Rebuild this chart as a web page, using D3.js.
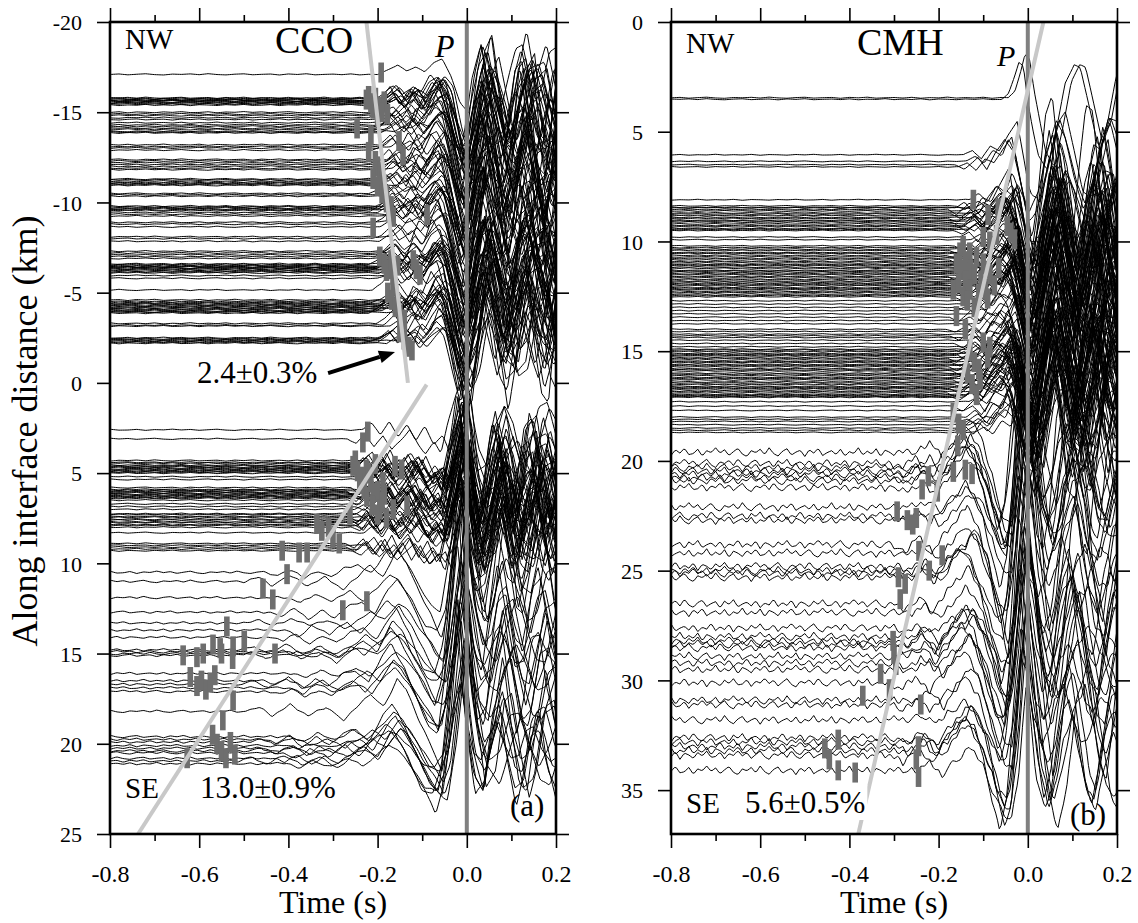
<!DOCTYPE html>
<html><head><meta charset="utf-8">
<script src="https://cdn.jsdelivr.net/npm/d3@7"></script>
<style>
body{margin:0;background:#fff}
svg text{font-family:"Liberation Serif","Times New Roman",serif !important;fill:#000}
</style>
</head><body>
<svg id="c" width="1138" height="923"></svg>
<script>
// ---------------- DATA ----------------
const timeTicks=[-0.8,-0.6,-0.4,-0.2,0.0,0.2];
const timeTickLabels=["-0.8","-0.6","-0.4","-0.2","0.0","0.2"];
const timeMinorTicks=[-0.7,-0.5,-0.3,-0.1,0.1];
const ccoDistTicks=[-20,-15,-10,-5,0,5,10,15,20,25];
const ccoDistTickLabels=["-20","-15","-10","-5","0","5","10","15","20","25"];
const cmhDistTicks=[0,5,10,15,20,25,30,35];
const cmhDistTickLabels=["0","5","10","15","20","25","30","35"];

// trace baselines (along-interface distance, km)
const ccoNwOffsets=[-17.1,-15.8,-15.76,-15.72,-15.68,-15.65,-15.62,-15.58,-15.54,-15.5,-15.45,-15.4,-15.0,-14.9,-14.82,-14.7,-14.6,-14.42,-14.3,-14.22,-14.12,-14.05,-13.95,-13.9,-13.86,-13.2,-13.1,-13.02,-12.9,-12.38,-12.3,-12.2,-12.1,-12.0,-11.9,-11.82,-11.3,-11.25,-11.18,-11.1,-11.05,-11.0,-10.95,-10.5,-10.42,-10.35,-9.8,-9.75,-9.7,-9.65,-9.6,-9.55,-9.45,-9.35,-9.25,-8.9,-8.8,-8.65,-8.1,-8.0,-7.85,-7.3,-7.2,-7.1,-7.0,-6.9,-6.6,-6.55,-6.5,-6.45,-6.42,-6.38,-6.35,-6.3,-6.25,-6.2,-6.15,-6.1,-5.95,-5.8,-5.15,-4.6,-4.52,-4.45,-4.4,-4.35,-4.3,-4.25,-4.2,-4.15,-4.1,-4.05,-4.0,-3.95,-3.92,-3.87,-3.3,-3.2,-3.15,-2.5,-2.45,-2.4,-2.35,-2.3,-2.25,-2.2];
const ccoSeUpperOffsets=[2.6,3.1,4.3,4.4,4.45,4.55,4.6,4.65,4.7,4.75,4.8,4.85,4.9,4.95,5.0,5.2,5.35,5.8,5.9,5.95,6.0,6.05,6.1,6.15,6.2,6.25,6.3,6.35,6.4,6.5,6.7,6.85,7.0,7.25,7.3,7.4,7.45,7.55,7.6,7.7,7.75,7.85,7.9,8.0,8.3,8.9,9.0,9.1,9.2,9.3];
const ccoSeLowerOffsets=[10.5,11.0,11.9,12.7,13.3,13.7,14.1,14.8,14.9,15.0,15.1,16.1,16.5,16.7,16.9,17.1,18.2,19.6,19.75,19.9,20.1,20.25,20.4,20.5,20.8,20.95,21.1];
const cmhTopOffsets=[3.45,3.52];
const cmhUpperOffsets=[6.05,6.35,6.5,6.6,8.1,8.38,8.45,8.47,8.55,8.61,8.7,8.75,8.82,8.9,8.95,9.03,9.07,9.12,9.2,9.27,9.33,9.41,9.45,9.5,9.8,9.92,10.2,10.28,10.35,10.41,10.5,10.55,10.63,10.7,10.77,10.84,10.92,10.98,11.05,11.1,11.17,11.22,11.31,11.35,11.4,11.47,11.52,11.6,11.66,11.73,11.8,11.85,11.91,11.97,12.02,12.1,12.15,12.2,12.27,12.33,12.4,12.46,12.52,12.7,12.85,13.0,13.15,13.3,13.45,13.6,13.75,14.0,14.1,14.22,14.3,14.38,14.5,14.65,14.8,14.91,14.95,15.02,15.1,15.15,15.2,15.27,15.33,15.4,15.47,15.52,15.6,15.65,15.71,15.8,15.85,15.9,16.0,16.05,16.12,16.2,16.25,16.31,16.4,16.45,16.52,16.6,16.65,16.7,16.77,16.83,16.9,16.97,17.02,17.06,17.1,17.3,17.5,17.7,18.0,18.1,18.2,18.35,18.5,18.6,18.7];
const cmhLowerOffsets=[19.6,20.1,20.3,20.45,20.6,20.75,20.9,21.2,22.1,22.5,22.7,23.8,24.2,24.8,25.0,25.1,25.3,26.5,26.9,27.6,28.0,28.2,28.35,28.5,28.9,29.2,29.5,30.1,30.9,31.1,31.8,32.6,32.8,33.0,33.2,33.4,34.1];

// waveform shapes read from the record sections: [time s, deflection km] (positive = downward)
const ccoNwWaveA=[[-0.8,0],[-0.2,0],[-0.18,-0.3],[-0.155,-0.9],[-0.135,-0.3],[-0.115,-0.7],[-0.095,-0.2],[-0.075,-1.1],[-0.055,-1.4],[-0.035,0.2],[-0.015,2.6],[0.004,3.6],[0.02,0.5],[0.035,-2.6],[0.05,-1.0],[0.065,1.8],[0.08,2.6],[0.095,0.0],[0.11,-2.4],[0.125,-2.8],[0.14,0.2],[0.155,2.5],[0.17,1.0],[0.185,-2.0],[0.2,-2.5]];
const ccoNwWaveB=[[-0.8,0],[-0.19,0],[-0.165,-0.5],[-0.145,0.2],[-0.125,-0.6],[-0.1,0.3],[-0.08,-0.5],[-0.06,-1.2],[-0.04,-0.6],[-0.02,1.8],[-0.003,3.0],[0.012,1.5],[0.028,-2.0],[0.045,-2.8],[0.06,-0.5],[0.075,2.0],[0.09,1.5],[0.105,-1.5],[0.12,-3.0],[0.135,-1.2],[0.15,1.8],[0.165,2.8],[0.18,0.0],[0.195,-2.2],[0.2,-2.0]];
const ccoNwWaveC=[[-0.8,0],[-0.17,0],[-0.15,-0.4],[-0.13,0.3],[-0.11,-0.8],[-0.09,-0.4],[-0.07,-1.6],[-0.05,-0.8],[-0.03,1.2],[-0.01,3.4],[0.005,2.6],[0.022,-1.2],[0.04,-3.2],[0.055,-1.0],[0.07,1.0],[0.085,3.0],[0.1,1.2],[0.115,-1.8],[0.13,-2.4],[0.145,0.4],[0.16,2.2],[0.175,2.6],[0.19,-0.6],[0.2,-1.8]];
const ccoNwWaveD=[[-0.8,0],[-0.21,0],[-0.19,-0.2],[-0.17,-0.7],[-0.15,0.1],[-0.12,-0.5],[-0.1,0.4],[-0.08,-0.3],[-0.06,-0.9],[-0.045,-0.3],[-0.025,2.0],[-0.008,3.8],[0.006,2.2],[0.025,-0.8],[0.04,-2.2],[0.058,0.5],[0.072,2.8],[0.088,0.8],[0.1,-1.0],[0.118,-2.8],[0.132,-0.8],[0.148,1.5],[0.162,3.0],[0.178,1.0],[0.192,-1.8],[0.2,-2.4]];
const ccoSeUpperWaveA=[[-0.8,0],[-0.24,0],[-0.22,-0.4],[-0.2,0.3],[-0.18,-0.5],[-0.16,0.4],[-0.14,-0.3],[-0.12,0.6],[-0.1,-0.2],[-0.08,0.8],[-0.06,0.3],[-0.045,1.2],[-0.03,-0.5],[-0.01,-3.5],[0.0,-2.0],[0.015,1.5],[0.03,3.0],[0.045,0.5],[0.06,-2.0],[0.075,-0.5],[0.09,2.5],[0.105,1.0],[0.12,-1.8],[0.135,-2.2],[0.15,0.5],[0.165,2.6],[0.18,0.8],[0.195,-1.5],[0.2,-1.0]];
const ccoSeUpperWaveB=[[-0.8,0],[-0.26,0],[-0.24,0.3],[-0.22,-0.3],[-0.2,0.5],[-0.18,-0.2],[-0.16,0.7],[-0.14,0.1],[-0.12,-0.6],[-0.1,0.4],[-0.085,1.0],[-0.065,0.2],[-0.05,0.9],[-0.035,-1.0],[-0.015,-3.0],[-0.004,-3.8],[0.01,0.0],[0.025,2.5],[0.04,2.0],[0.055,-1.0],[0.07,-2.5],[0.085,0.0],[0.1,2.2],[0.115,2.6],[0.13,0.0],[0.145,-2.4],[0.16,-1.0],[0.175,1.5],[0.19,2.4],[0.2,1.8]];
const ccoSeLowerWaveA=[[-0.8,0],[-0.45,0],[-0.42,0.2],[-0.39,-0.2],[-0.36,0.4],[-0.33,-0.1],[-0.3,0.3],[-0.27,-0.3],[-0.24,-0.5],[-0.21,0.1],[-0.18,-1.2],[-0.16,-1.8],[-0.13,-0.6],[-0.1,1.0],[-0.075,2.2],[-0.055,2.6],[-0.035,-1.0],[-0.012,-7.0],[0.0,-4.0],[0.02,0.5],[0.04,2.2],[0.055,-0.5],[0.075,-3.5],[0.09,-0.8],[0.105,1.8],[0.12,2.2],[0.14,-1.0],[0.155,-3.0],[0.17,-1.0],[0.185,1.5],[0.2,1.8]];
const ccoSeLowerWaveB=[[-0.8,0],[-0.5,0],[-0.47,-0.2],[-0.44,0.2],[-0.4,-0.3],[-0.36,0.2],[-0.32,-0.2],[-0.28,0.4],[-0.25,-0.2],[-0.22,-0.8],[-0.19,-0.2],[-0.16,-1.5],[-0.14,-1.0],[-0.11,0.5],[-0.085,1.5],[-0.06,2.8],[-0.045,1.5],[-0.02,-5.0],[-0.006,-8.0],[0.008,-2.0],[0.028,1.8],[0.048,1.0],[0.065,-2.5],[0.08,-3.0],[0.098,0.2],[0.115,2.4],[0.13,0.8],[0.148,-2.2],[0.165,-2.6],[0.18,0.0],[0.2,2.0]];
const ccoSeLowerWaveC=[[-0.8,0],[-0.4,0],[-0.37,0.3],[-0.34,-0.2],[-0.3,0.2],[-0.26,-0.4],[-0.23,0.2],[-0.2,-0.6],[-0.17,-1.4],[-0.15,-1.0],[-0.12,0.2],[-0.09,1.8],[-0.065,2.0],[-0.045,0.6],[-0.025,-3.5],[-0.008,-6.0],[0.005,-2.5],[0.022,0.8],[0.038,1.6],[0.055,-1.0],[0.07,-2.6],[0.088,-0.5],[0.105,1.5],[0.122,1.0],[0.138,-1.6],[0.155,-2.0],[0.175,0.5],[0.195,1.8],[0.2,1.5]];
const cmhTopWave=[[-0.8,0],[-0.05,0],[-0.035,-0.3],[-0.022,-1.2],[-0.012,-2.0],[-0.002,-1.8],[0.01,0.5],[0.025,3.5],[0.04,4.5],[0.055,2.0],[0.07,-1.0],[0.085,-2.2],[0.095,-2.0],[0.11,0.5],[0.125,3.0],[0.14,1.5],[0.155,-1.5],[0.165,-2.3],[0.18,-0.5],[0.2,2.0]];
const cmhUpperWaveA=[[-0.8,0],[-0.15,0],[-0.13,-0.2],[-0.11,0.2],[-0.09,-0.4],[-0.07,-0.2],[-0.05,-0.9],[-0.03,-1.5],[-0.012,0.5],[0.0,2.0],[0.015,3.2],[0.03,0.8],[0.045,-2.0],[0.06,-2.8],[0.075,-0.3],[0.09,2.4],[0.105,2.8],[0.12,0.0],[0.135,-2.4],[0.15,-2.2],[0.165,0.6],[0.18,2.6],[0.2,1.0]];
const cmhUpperWaveB=[[-0.8,0],[-0.13,0],[-0.11,-0.3],[-0.09,0.1],[-0.07,-0.6],[-0.05,-0.3],[-0.035,-1.2],[-0.02,-0.4],[-0.005,1.5],[0.01,2.8],[0.025,2.0],[0.04,-0.5],[0.055,-2.6],[0.07,-1.5],[0.085,1.0],[0.1,3.0],[0.115,1.8],[0.13,-1.0],[0.145,-2.8],[0.16,-1.2],[0.175,1.5],[0.19,2.8],[0.2,2.0]];
const cmhUpperWaveC=[[-0.8,0],[-0.17,0],[-0.15,0.2],[-0.12,-0.3],[-0.1,0.2],[-0.08,-0.5],[-0.06,-1.0],[-0.04,-0.5],[-0.02,1.0],[-0.005,2.4],[0.008,3.0],[0.022,1.0],[0.038,-1.5],[0.05,-3.0],[0.065,-1.0],[0.08,1.2],[0.095,2.6],[0.11,1.0],[0.125,-1.5],[0.14,-2.8],[0.155,-0.5],[0.17,1.8],[0.185,2.4],[0.2,0.5]];
const cmhLowerWaveA=[[-0.8,0],[-0.26,0],[-0.23,-0.4],[-0.2,0.3],[-0.17,-0.6],[-0.14,-1.4],[-0.115,-0.6],[-0.09,1.0],[-0.065,2.6],[-0.045,3.0],[-0.03,0.5],[-0.012,-5.0],[0.0,-4.0],[0.015,-0.5],[0.035,2.5],[0.05,1.0],[0.065,-2.0],[0.085,-3.5],[0.1,-1.0],[0.12,2.0],[0.135,2.5],[0.15,0.0],[0.17,-2.5],[0.185,-1.5],[0.2,1.0]];
const cmhLowerWaveB=[[-0.8,0],[-0.3,0],[-0.27,0.3],[-0.24,-0.3],[-0.21,0.4],[-0.18,-0.5],[-0.15,-1.0],[-0.13,-1.6],[-0.1,-0.4],[-0.075,1.6],[-0.055,3.3],[-0.04,2.0],[-0.022,-2.5],[-0.006,-6.0],[0.008,-3.0],[0.025,1.0],[0.045,3.0],[0.06,1.5],[0.075,-1.5],[0.095,-3.2],[0.11,-1.5],[0.13,1.5],[0.145,2.5],[0.16,0.5],[0.18,-2.0],[0.2,-2.5]];

// pre-event noise (typed, dimensionless) and per-trace variations
const noiseSeq=[0.2,-0.5,0.7,-0.1,-0.8,0.4,0.9,-0.3,0.1,-0.6,0.5,-0.9,0.3,0.8,-0.2,-0.7,0.6,0.0,-0.4,0.9,-0.5,0.2,-0.8,0.7,0.1,-0.3,0.5,-0.6,0.8,-0.1,0.3,-0.9,0.6,-0.2,0.4,-0.7,0.9,-0.4,0.0,0.7,-0.5,0.2,-0.8,0.5,0.3,-0.6,0.8,-0.3,0.1,-0.9];
const ampCycle=[0.6,1.0,0.85,1.15,0.9,1.05,0.75,1.2,0.95,1.1,0.8];
const postAmpCycle=[1.0,0.7,1.25,0.85,1.1,0.6,0.95,1.3,0.8,1.15,0.9,0.75,1.2];
const shiftCycle=[0,0.006,-0.004,0.01,-0.008,0.003,-0.012,0.008,-0.002,0.012,-0.006,0.004,-0.01];
const stretchCycle=[1.0,0.78,0.92,0.71,0.86,0.97,0.74,0.83,0.95,0.7,0.89,0.8,0.76,0.93,0.84,0.73,0.99];

// picked onsets [time s, distance km]
const ccoBars=[[-0.192,-17.2],[-0.225,-15.7],[-0.215,-15.5],[-0.205,-15.8],[-0.195,-15.3],[-0.185,-15.6],[-0.178,-14.9],[-0.2,-14.8],[-0.22,-15.9],[-0.21,-15.2],[-0.19,-15.0],[-0.246,-14.1],[-0.215,-13.7],[-0.152,-13.4],[-0.22,-12.8],[-0.205,-12.3],[-0.2,-12.0],[-0.143,-12.6],[-0.195,-11.7],[-0.21,-11.3],[-0.19,-11.2],[-0.2,-10.9],[-0.19,-10.5],[-0.18,-10.4],[-0.18,-10.0],[-0.17,-9.8],[-0.175,-9.5],[-0.165,-9.2],[-0.185,-11.0],[-0.089,-9.3],[-0.21,-8.6],[-0.195,-7.0],[-0.185,-6.6],[-0.175,-6.3],[-0.18,-6.2],[-0.17,-6.8],[-0.165,-6.0],[-0.155,-6.5],[-0.12,-6.8],[-0.113,-6.3],[-0.105,-6.0],[-0.165,-5.4],[-0.177,-5.0],[-0.168,-4.6],[-0.155,-4.4],[-0.16,-4.2],[-0.15,-3.8],[-0.14,-3.5],[-0.145,-3.1],[-0.15,-2.8],[-0.14,-2.4],[-0.13,-2.0],[-0.123,-1.8],
[-0.222,2.7],[-0.233,3.3],[-0.25,4.3],[-0.255,4.6],[-0.245,4.9],[-0.235,5.2],[-0.225,4.8],[-0.22,5.0],[-0.215,5.5],[-0.24,5.6],[-0.23,5.9],[-0.205,4.5],[-0.21,6.1],[-0.2,6.0],[-0.161,4.6],[-0.146,4.8],[-0.188,5.5],[-0.224,6.3],[-0.185,6.2],[-0.212,6.8],[-0.195,7.0],[-0.2,7.3],[-0.19,6.6],[-0.18,7.5],[-0.165,7.0],[-0.134,6.8],[-0.262,7.3],[-0.336,7.8],[-0.325,8.2],[-0.31,8.0],[-0.3,8.6],[-0.286,8.9],[-0.414,9.3],[-0.376,9.4],[-0.358,9.4],[-0.403,10.6],[-0.457,11.4],[-0.435,12.0],[-0.278,12.6],[-0.224,12.1],[-0.538,13.5],[-0.569,14.5],[-0.553,14.7],[-0.524,14.6],[-0.499,14.3],[-0.636,15.1],[-0.605,15.2],[-0.591,15.0],[-0.55,15.0],[-0.525,15.3],[-0.43,15.0],[-0.62,16.3],[-0.605,16.8],[-0.595,16.5],[-0.585,17.0],[-0.575,16.6],[-0.565,16.2],[-0.524,17.6],[-0.547,18.7],[-0.57,19.5],[-0.56,20.0],[-0.55,20.4],[-0.54,20.8],[-0.53,19.9],[-0.52,20.6],[-0.627,20.8]];
const cmhBars=[[-0.122,8.1],[-0.089,8.8],[-0.066,8.5],[-0.046,9.3],[-0.038,9.6],[-0.03,9.9],[-0.1,9.8],[-0.085,10.0],[-0.07,9.7],[-0.152,10.5],[-0.145,10.2],[-0.14,10.9],[-0.13,10.5],[-0.128,11.3],[-0.16,11.0],[-0.15,11.3],[-0.14,11.8],[-0.12,11.5],[-0.115,10.7],[-0.1,11.0],[-0.105,11.8],[-0.11,12.4],[-0.095,12.2],[-0.09,12.6],[-0.085,11.5],[-0.075,12.0],[-0.065,11.2],[-0.167,12.2],[-0.155,11.9],[-0.145,12.5],[-0.13,12.2],[-0.135,12.7],[-0.12,13.0],[-0.16,13.4],[-0.14,14.0],[-0.1,14.6],[-0.13,15.0],[-0.09,15.3],[-0.085,14.8],[-0.12,15.5],[-0.11,15.8],[-0.135,16.0],[-0.125,16.5],[-0.115,17.0],[-0.107,16.3],[-0.167,17.8],[-0.155,18.3],[-0.145,18.6],[-0.157,19.3],[-0.167,20.5],[-0.14,20.4],[-0.125,20.6],[-0.223,20.7],[-0.237,21.3],[-0.203,21.4],[-0.293,22.3],[-0.27,22.7],[-0.258,22.9],[-0.25,22.6],[-0.244,24.1],[-0.192,24.3],[-0.221,25.0],[-0.29,25.3],[-0.275,25.6],[-0.286,26.3],[-0.302,28.2],[-0.3,28.8],[-0.296,29.3],[-0.33,29.7],[-0.37,30.7],[-0.31,30.4],[-0.24,31.1],[-0.425,32.7],[-0.455,33.1],[-0.445,33.6],[-0.425,34.1],[-0.387,34.2],[-0.245,33.0],[-0.25,33.6],[-0.245,34.4]];

// apparent-velocity fit lines [time s, distance km]
const ccoFitNw=[[-0.225,-20],[-0.132,0]];
const ccoFitSe=[[-0.09,0.1],[-0.737,25]];
const cmhFit=[[-0.38,37],[0.035,0]];

// ---------------- DRAWING ----------------
const FONT='"Liberation Serif","Times New Roman",serif';
const svg=d3.select("#c");
const TOP=22,BOT=834;
const drawTimes=d3.range(-0.8,0.2001,0.004);

function makeTrace(offset,tpl,amp,postAmp,shift,stretch,nAmp,nStep,phase){
  const f=d3.scaleLinear().domain(tpl.map(p=>p[0])).range(tpl.map(p=>p[1])).clamp(true);
  const L=noiseSeq.length;
  return drawTimes.map(t=>{
    const u=(t+0.8)/nStep, k=Math.floor(u), fr=u-k;
    const nv=(1-fr)*noiseSeq[(k+phase)%L]+fr*noiseSeq[(k+1+phase)%L];
    const te=t>0?t*stretch:t;
    const pa=t>0.02?postAmp:(t>0?1+(postAmp-1)*t/0.02:1);
    return [t, offset+amp*pa*f(te-shift)+nAmp*nv];
  });
}

function drawPanel(cfg){
  const x=d3.scaleLinear().domain([-0.8,0.2]).range([cfg.x0,cfg.x1]);
  const y=d3.scaleLinear().domain(cfg.ydom).range([TOP,BOT]);
  const g=svg.append("g");
  const cid="clip"+cfg.id;
  svg.append("clipPath").attr("id",cid).append("rect")
    .attr("x",cfg.x0).attr("y",TOP).attr("width",cfg.x1-cfg.x0).attr("height",BOT-TOP);
  const plot=g.append("g").attr("clip-path",`url(#${cid})`);
  const line=d3.line().x(d=>x(d[0])).y(d=>y(d[1]));
  let idx=0;
  cfg.groups.forEach(gr=>{
    gr.offsets.forEach((off,i)=>{
      const tpl=gr.templates[i%gr.templates.length];
      const amp=ampCycle[(i+gr.ph)%ampCycle.length];
      const pamp=postAmpCycle[(i*2+gr.ph)%postAmpCycle.length];
      const sh=shiftCycle[(i*3+gr.ph)%shiftCycle.length];
      const st=stretchCycle[(i*5+gr.ph)%stretchCycle.length];
      const pts=makeTrace(off,tpl,amp,pamp,sh,st,gr.noise,gr.step,(idx*gr.nph)%noiseSeq.length);
      idx++;
      plot.append("path").attr("d",line(pts)).attr("fill","none")
        .attr("stroke","#000").attr("stroke-width",1.0);
    });
  });
  plot.append("line").attr("x1",x(0)).attr("x2",x(0)).attr("y1",TOP).attr("y2",BOT)
    .attr("stroke","#808080").attr("stroke-width",4);
  plot.selectAll("rect.pick").data(cfg.bars).enter().append("rect").attr("class","pick")
    .attr("x",d=>x(d[0])-2.8).attr("y",d=>y(d[1])-10).attr("width",5.6).attr("height",20)
    .attr("fill","#6e6e6e");
  cfg.fits.forEach(f=>{
    plot.append("path").attr("d",line(f)).attr("stroke","#c8c8c8").attr("stroke-width",4).attr("fill","none");
  });
  const tickStyle=s=>{s.attr("font-family",FONT);s.select(".domain").remove();s.selectAll("line").attr("stroke","#000").attr("stroke-width",1.6);};
  g.append("g").attr("transform",`translate(0,${BOT})`)
    .call(d3.axisBottom(x).tickValues(timeTicks).tickSize(14).tickFormat((d,i)=>timeTickLabels[i]))
    .call(tickStyle)
    .call(s=>s.selectAll("text").attr("y",48).attr("dy",null).attr("font-size",24)
      .style("font-family",FONT).attr("fill","#000"));
  g.append("g").attr("transform",`translate(0,${BOT})`)
    .call(d3.axisBottom(x).tickValues(timeMinorTicks).tickSize(7).tickFormat(""))
    .call(tickStyle);
  g.append("g").attr("transform",`translate(0,${TOP})`)
    .call(d3.axisTop(x).tickValues(timeTicks).tickSize(14).tickFormat(""))
    .call(tickStyle);
  g.append("g").attr("transform",`translate(0,${TOP})`)
    .call(d3.axisTop(x).tickValues(timeMinorTicks).tickSize(7).tickFormat(""))
    .call(tickStyle);
  g.append("g").attr("transform",`translate(${cfg.x0},0)`)
    .call(d3.axisLeft(y).tickValues(cfg.yTicks).tickSize(13).tickFormat((d,i)=>cfg.yLabels[i]))
    .call(tickStyle)
    .call(s=>s.selectAll("text").attr("x",-28).attr("dy","0.35em").attr("font-size",22)
      .style("font-family",FONT).attr("fill","#000"));
  g.append("g").attr("transform",`translate(${cfg.x1},0)`)
    .call(d3.axisRight(y).tickValues(cfg.yTicks).tickSize(13).tickFormat(""))
    .call(tickStyle);
  g.append("rect").attr("x",cfg.x0).attr("y",TOP).attr("width",cfg.x1-cfg.x0).attr("height",BOT-TOP)
    .attr("fill","none").attr("stroke","#000").attr("stroke-width",2.6);
  g.append("text").attr("x",(cfg.x0+cfg.x1)/2).attr("y",913).attr("text-anchor","middle")
    .attr("font-size",32).text("Time (s)");
  return {g,x,y};
}

function label(g,txt,x,y,size,opts={}){
  const t=g.append("text").attr("x",x).attr("y",y).attr("font-size",size).text(txt);
  if(opts.italic) t.attr("font-style","italic");
  if(opts.box){
    const b=t.node().getBBox();
    g.insert("rect",()=>t.node()).attr("x",b.x-2).attr("y",b.y).attr("width",b.width+4).attr("height",b.height).attr("fill","#fff");
  }
  return t;
}

const A=drawPanel({id:"a",x0:110,x1:556,ydom:[-20,25],yTicks:ccoDistTicks,yLabels:ccoDistTickLabels,
  groups:[
    {offsets:ccoNwOffsets,templates:[ccoNwWaveA,ccoNwWaveB,ccoNwWaveC,ccoNwWaveD],noise:0.04,step:0.02,ph:0,nph:7},
    {offsets:ccoSeUpperOffsets,templates:[ccoSeUpperWaveA,ccoSeUpperWaveB],noise:0.04,step:0.02,ph:1,nph:7},
    {offsets:ccoSeLowerOffsets,templates:[ccoSeLowerWaveA,ccoSeLowerWaveB,ccoSeLowerWaveC],noise:0.08,step:0.015,ph:2,nph:7}
  ],bars:ccoBars,fits:[ccoFitNw,ccoFitSe]});

const B=drawPanel({id:"b",x0:671,x1:1117,ydom:[0,37],yTicks:cmhDistTicks,yLabels:cmhDistTickLabels,
  groups:[
    {offsets:cmhTopOffsets,templates:[cmhTopWave],noise:0.03,step:0.02,ph:1,nph:7},
    {offsets:cmhUpperOffsets,templates:[cmhUpperWaveA,cmhUpperWaveB,cmhUpperWaveC],noise:0.025,step:0.02,ph:1,nph:13},
    {offsets:cmhLowerOffsets,templates:[cmhLowerWaveA,cmhLowerWaveB],noise:0.22,step:0.01,ph:3,nph:7}
  ],bars:cmhBars,fits:[cmhFit]});

label(A.g,"NW",125,49,29);
label(A.g,"CCO",275,53,38);
label(A.g,"P",435,57,32,{italic:true});
label(A.g,"2.4±0.3%",197,383,31);
label(A.g,"SE",125,798,29);
label(A.g,"13.0±0.9%",200,798,31);
label(A.g,"(a)",510,816,31);
(function(){
  const x1=A.x(-0.311),y1=A.y(-0.54),x2=A.x(-0.161),y2=A.y(-1.71);
  const a=Math.atan2(y2-y1,x2-x1),L=16,w=6.5;
  const bx=x2-L*Math.cos(a),by=y2-L*Math.sin(a);
  A.g.append("line").attr("x1",x1).attr("y1",y1).attr("x2",bx).attr("y2",by).attr("stroke","#000").attr("stroke-width",4);
  A.g.append("polygon").attr("points",[[x2,y2],[bx+w*Math.sin(a),by-w*Math.cos(a)],[bx-w*Math.sin(a),by+w*Math.cos(a)]].map(p=>p.join(",")).join(" ")).attr("fill","#000");
})();

label(B.g,"NW",686,53,29);
label(B.g,"CMH",857,55,38);
label(B.g,"P",997,66,30,{italic:true});
label(B.g,"SE",686,813,29);
label(B.g,"5.6±0.5%",745,813,31,{box:true});
label(B.g,"(b)",1070,825,31);

svg.append("text").attr("transform","translate(37,431) rotate(-90)").attr("text-anchor","middle")
  .attr("font-size",36).text("Along interface distance (km)");
</script>
</body></html>
